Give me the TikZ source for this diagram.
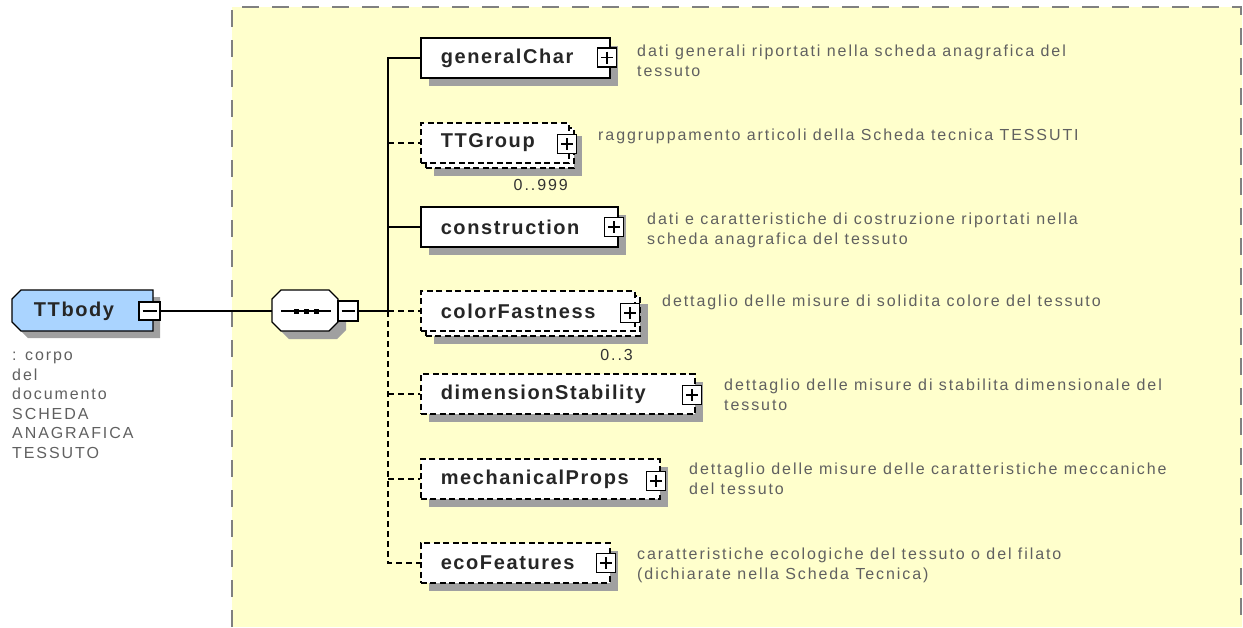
\documentclass[tikz,border=0pt]{standalone}
\usepackage{fontspec}
\setmainfont{Liberation Sans}
\newfontfamily\descfont[LetterSpace=12]{Liberation Sans}
\newfontfamily\namefont[LetterSpace=8]{Liberation Sans}
\usetikzlibrary{calc,shadows}
\definecolor{bgyellow}{RGB}{255,255,204}
\definecolor{bordergray}{RGB}{128,128,128}
\definecolor{shadowgray}{RGB}{160,160,160}
\definecolor{ttblue}{RGB}{170,212,255}
\definecolor{desctext}{RGB}{96,96,96}
\begin{document}
\begin{tikzpicture}[x=1pt,y=-1pt,
  conn/.style={line width=1.4pt, black},
  optconn/.style={conn, dash pattern=on 6pt off 4pt},
  elembox/.style={draw, fill=white, line width=1.5pt, minimum height=40pt, inner xsep=20pt, inner ysep=0pt, align=left, anchor=west, font=\namefont\bfseries\fontsize{20}{24}\selectfont, text=black!85},
  optbox/.style={elembox, dash pattern=on 6pt off 3.5pt},
  shadowed/.style={drop shadow={shadow xshift=8pt, shadow yshift=-8pt, fill=shadowgray, opacity=1}},
  expbox/.style={draw, fill=white, line width=1.2pt, minimum width=19pt, minimum height=19pt, inner sep=0pt,
    path picture={\draw[line width=1.2pt] ([xshift=3.5pt]path picture bounding box.west) -- ([xshift=-3.5pt]path picture bounding box.east);
                  \draw[line width=1.2pt] ([yshift=-3.5pt]path picture bounding box.north) -- ([yshift=3.5pt]path picture bounding box.south);}},
  colbox/.style={draw, fill=white, line width=1.2pt, inner sep=0pt,
    path picture={\draw[line width=1.2pt] ([xshift=3.5pt]path picture bounding box.west) -- ([xshift=-3.5pt]path picture bounding box.east);}},
  desc/.style={anchor=north west, inner sep=0pt, align=left, text=desctext, font=\descfont\fontsize{16}{19.5}\selectfont},
  card/.style={anchor=east, inner sep=0pt, text=black!80, font=\descfont\fontsize{16}{19.5}\selectfont}
]
\useasboundingbox (0,0) rectangle (1243,627);
% content area
\fill[bgyellow] (232,7) rectangle (1242,627);
\draw[bordergray, line width=2pt, dash pattern=on 17pt off 13pt] (232,627) -- (232,7) -- (1241,7) -- (1241,627);

% TTbody
\fill[shadowgray] (28,297) -- (160,297) -- (160,338) -- (28,338) -- (19,329) -- (19,306) -- cycle;
\draw[fill=ttblue, line width=1.4pt] (21,290) -- (153,290) -- (153,331) -- (21,331) -- (12,322) -- (12,299) -- cycle;
\node[font=\namefont\bfseries\fontsize{20}{24}\selectfont, text=black!85, inner sep=0pt] (ttb) at (74,311) {TTbody};
\node[colbox, minimum width=21pt, minimum height=18pt] (ttm) at (149.5,311) {};
\node[desc] (ttbdesc) at (12,352) {: corpo\\del\\documento\\SCHEDA\\ANAGRAFICA\\TESSUTO};

% sequence compositor
\fill[shadowgray] (289,298) -- (337,298) -- (346,307) -- (346,330) -- (337,339) -- (289,339) -- (280,330) -- (280,307) -- cycle;
\draw[fill=white, line width=1.4pt] (281,290) -- (329,290) -- (338,299) -- (338,322) -- (329,331) -- (281,331) -- (272,322) -- (272,299) -- cycle;
\node[minimum width=66pt, minimum height=41pt, inner sep=0pt] (seq) at (305,311) {};
\draw[conn] (281,311) -- (331,311);
\fill (293.5,308.5) rectangle (298.5,313.5);
\fill (303.5,308.5) rectangle (308.5,313.5);
\fill (313.5,308.5) rectangle (318.5,313.5);
\node[colbox, minimum width=20pt, minimum height=20pt] (seqm) at (348,311) {};
\coordinate (j) at (388,311);

% elements
\node[elembox, shadowed, text width=149pt] (gc) at (420,58) {\mbox{generalChar}};
\node[optbox, shadowed, text width=108pt] (ttgb) at (425,148) {};
\node[optbox, text width=108pt] (ttg) at (420,143) {\mbox{TTGroup}};
\node[elembox, shadowed, text width=157pt] (con) at (420,227) {\mbox{construction}};
\node[optbox, shadowed, text width=174pt] (cfb) at (425,316) {};
\node[optbox, text width=174pt] (cf) at (420,311) {\mbox{colorFastness}};
\node[optbox, shadowed, text width=234pt] (ds) at (420,394) {\mbox{dimensionStability}};
\node[optbox, shadowed, text width=199pt] (mp) at (420,479) {\mbox{mechanicalProps}};
\node[optbox, shadowed, text width=149pt] (eco) at (420,563) {\mbox{ecoFeatures}};

% expand boxes
\node[expbox] (gcp) at (607,57.5) {};
\node[expbox] (ttgp) at (567,144) {};
\node[expbox] (conp) at (614,227) {};
\node[expbox] (cfp) at (630,313) {};
\node[expbox] (dsp) at (692,395) {};
\node[expbox] (mpp) at (656,481) {};
\node[expbox] (ecop) at (606,563) {};

% cardinalities
\node[card] (ttgc) at (568,185) {0..999};
\node[card] (cfc) at (633,355) {0..3};

% descriptions
\node[desc] (gcd) at (637,45) {dati generali riportati nella scheda anagrafica del\\tessuto};
\node[desc] (ttgd) at (598,129) {raggruppamento articoli della Scheda tecnica TESSUTI};
\node[desc] (cond) at (647,213) {dati e caratteristiche di costruzione riportati nella\\scheda anagrafica del tessuto};
\node[desc] (cfd) at (662,295) {dettaglio delle misure di solidita colore del tessuto};
\node[desc] (dsd) at (724,379) {dettaglio delle misure di stabilita dimensionale del\\tessuto};
\node[desc] (mpd) at (689,463) {dettaglio delle misure delle caratteristiche meccaniche\\del tessuto};
\node[desc] (ecod) at (637,548) {caratteristiche ecologiche del tessuto o del filato\\(dichiarate nella Scheda Tecnica)};

% connectors
\draw[conn] (ttm.east) -- (seq.west);
\draw[conn] (seqm.east) -- (j);
\draw[conn] (j) |- (gc.west);
\draw[conn] (j |- con.west) -- (con.west);
\draw[optconn] (j |- ttg.west) -- (ttg.west);
\draw[optconn] (j) -- (cf.west);
\draw[optconn] (j) |- (eco.west);
\draw[optconn] (j |- ds.west) -- (ds.west);
\draw[optconn] (j |- mp.west) -- (mp.west);
\end{tikzpicture}
\end{document}
